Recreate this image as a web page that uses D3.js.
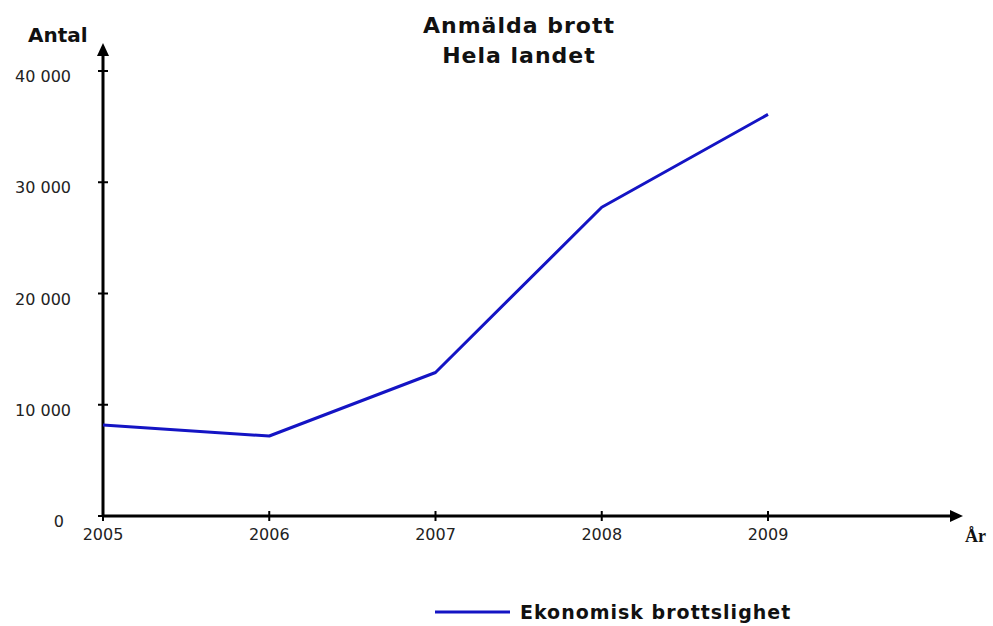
<!DOCTYPE html>
<html><head><meta charset="utf-8">
<script src="https://cdn.jsdelivr.net/npm/d3@7"></script>
<style>body{margin:0;background:#fff}svg{display:block}</style>
</head><body>
<svg id="c" width="993" height="626"></svg>
<script>
const years = [2005, 2006, 2007, 2008, 2009];
const values = [8180, 7190, 12900, 27750, 36100];
const yTicks = [0, 10000, 20000, 30000, 40000];
const titleLines = ["Anmälda brott", "Hela landet"];
const seriesName = "Ekonomisk brottslighet";

const svg = d3.select("#c");
const x0 = 103, y0 = 516;
const x = d3.scaleLinear().domain([2005, 2009]).range([x0, 768]);
const y = d3.scaleLinear().domain([0, 40000]).range([y0, 71]);
const fmt = v => d3.format(",")(v).replace(/,/g, " ");
const font = "'DejaVu Sans', Verdana, sans-serif";

// title
svg.append("g").selectAll("text").data(titleLines).join("text")
  .attr("x", 519).attr("y", (d, i) => 33 + i * 30)
  .attr("text-anchor", "middle").attr("font-family", font)
  .attr("font-weight", "bold").attr("font-size", 22).attr("letter-spacing", 1)
  .attr("fill", "#111").text(d => d);

// axes
const g = svg.append("g");
g.append("line").attr("x1", x0).attr("x2", x0).attr("y1", y0 + 1).attr("y2", 54)
  .attr("stroke", "#000").attr("stroke-width", 3);
g.append("path").attr("d", `M${x0-6},56 L${x0},43 L${x0+6},56 Z`).attr("fill", "#000");
g.append("line").attr("x1", x0 - 1).attr("x2", 952).attr("y1", y0).attr("y2", y0)
  .attr("stroke", "#000").attr("stroke-width", 3);
g.append("path").attr("d", `M950,${y0-6} L963,${y0} L950,${y0+6} Z`).attr("fill", "#000");

// y ticks
g.selectAll(".yt").data(yTicks).join("line").attr("class", "yt")
  .attr("x1", x0 - 5).attr("x2", x0 + 5).attr("y1", d => y(d)).attr("y2", d => y(d))
  .attr("stroke", "#000").attr("stroke-width", 2);
g.selectAll(".yl").data(yTicks).join("text").attr("class", "yl")
  .attr("x", d => d === 0 ? 64 : 71).attr("y", d => y(d) + 11)
  .attr("text-anchor", "end").attr("font-family", font).attr("font-size", 16)
  .attr("fill", "#222").text(d => fmt(d));

// x ticks
g.selectAll(".xt").data(years).join("line").attr("class", "xt")
  .attr("x1", d => x(d)).attr("x2", d => x(d)).attr("y1", y0 - 5).attr("y2", y0 + 5)
  .attr("stroke", "#000").attr("stroke-width", 2);
g.selectAll(".xl").data(years).join("text").attr("class", "xl")
  .attr("x", d => x(d)).attr("y", 540)
  .attr("text-anchor", "middle").attr("font-family", font).attr("font-size", 16)
  .attr("fill", "#222").text(d => d);

// axis titles
svg.append("text").attr("x", 28).attr("y", 42).attr("font-family", font)
  .attr("font-weight", "bold").attr("font-size", 20).attr("fill", "#111").text("Antal");
svg.append("text").attr("x", 965).attr("y", 542).attr("font-family", "'Liberation Serif', serif")
  .attr("font-weight", "bold").attr("font-size", 18).attr("fill", "#111").text("År");

// line
const line = d3.line().x((d, i) => x(years[i])).y(d => y(d));
svg.append("path").datum(values).attr("d", line).attr("fill", "none")
  .attr("stroke", "#1414c4").attr("stroke-width", 3).attr("stroke-linejoin", "round");

// legend
svg.append("line").attr("x1", 435).attr("x2", 510).attr("y1", 612).attr("y2", 612)
  .attr("stroke", "#1414c4").attr("stroke-width", 3);
svg.append("text").attr("x", 520).attr("y", 619).attr("font-family", font)
  .attr("font-weight", "bold").attr("font-size", 19).attr("letter-spacing", 1)
  .attr("fill", "#111").text(seriesName);
</script>
</body></html>
